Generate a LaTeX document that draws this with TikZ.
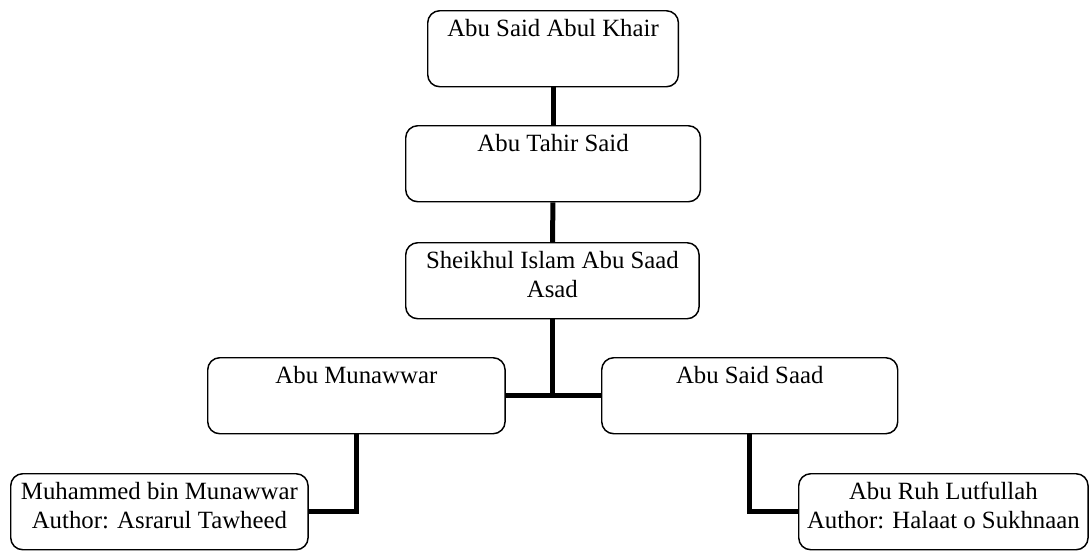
\documentclass[tikz,border=0pt]{standalone}
\usepackage{fontspec}
\setmainfont{Liberation Serif}
\tikzset{
  person/.style={draw, rectangle, rounded corners=9pt, line width=1.1pt, anchor=north west,
    inner sep=0pt, align=center, text height=19.5pt, text depth=37.5pt,
    font=\fontsize{18.6}{21.5}\selectfont},
  twoline/.style={text height=41pt, text depth=16pt},
  link/.style={line width=3.75pt}
}
\begin{document}
\begin{tikzpicture}[x=0.75pt, y=-0.75pt]
    \useasboundingbox (0,0) rectangle (1089,550);
    \node[person, minimum width=188pt] (khair) at (427,10) {Abu Said Abul Khair};
    \node[person, minimum width=221pt] (tahir) at (405,125) {Abu Tahir Said};
    \node[person, twoline, minimum width=220pt] (asad) at (405,242) {Sheikhul Islam Abu Saad\\Asad};
    \node[person, minimum width=223pt] (munawwar) at (207,357) {Abu Munawwar};
    \node[person, minimum width=222pt] (saad) at (601,357) {Abu Said Saad};
    \node[person, twoline, minimum width=223pt] (muhammed) at (10,473) {Muhammed bin Munawwar\\Author: Asrarul Tawheed};
    \node[person, twoline, minimum width=217pt] (ruh) at (798,473) {Abu Ruh Lutfullah\\Author: Halaat o Sukhnaan};
    \draw[link] (khair) -- (tahir);
    \draw[link] (tahir) -- (asad);
    \draw[link] (munawwar.east) -- (saad.west);
    \draw[link] (asad.south) -- (asad.south |- munawwar.east);
    % grandsons hang off the two sons
    \draw[link] (munawwar.south) |- (muhammed.east);
    \draw[link] (saad.south) |- (ruh.west);
\end{tikzpicture}
\end{document}
